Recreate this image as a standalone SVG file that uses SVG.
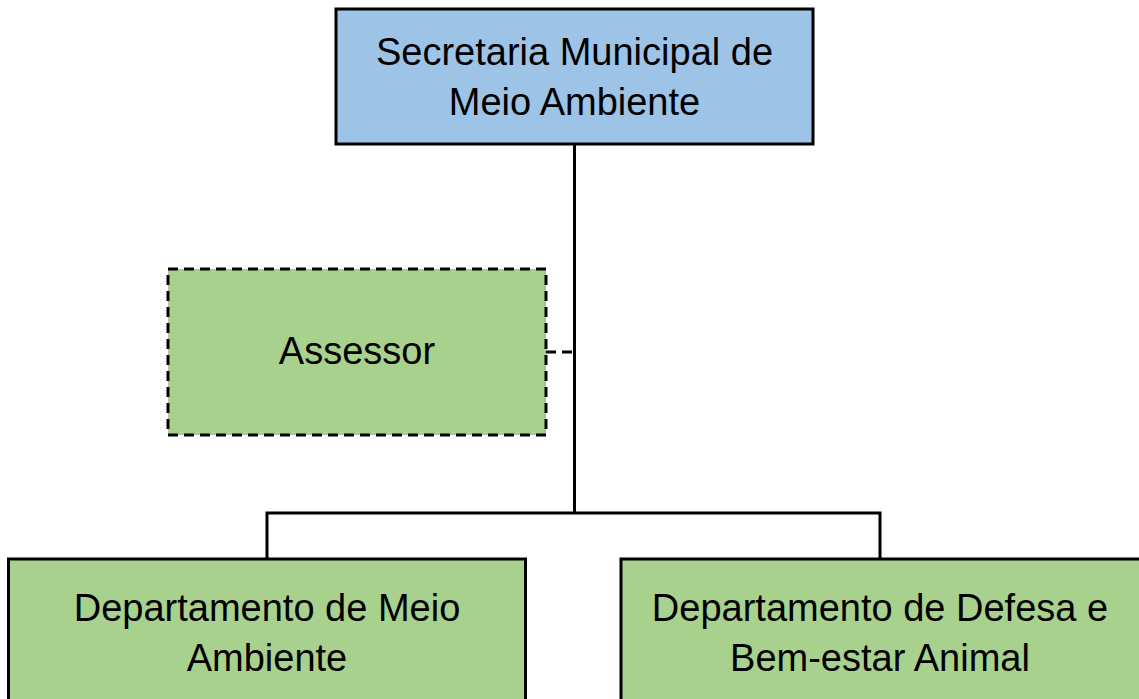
<svg xmlns="http://www.w3.org/2000/svg" width="1139" height="699" viewBox="0 0 1139 699">
<style>
.box{stroke:#000;stroke-width:3}
.blue{fill:#9DC3E6}
.green{fill:#A9D18E}
.dash{stroke-dasharray:10 6}
.lbl{font-family:"Liberation Sans","Open Sans",sans-serif;font-size:38px;fill:#000;text-anchor:middle}
.ln{stroke:#000;stroke-width:3;fill:none}
</style>
<rect width="1139" height="699" fill="#fff"/>
<g id="connectors">
<line class="ln" x1="574.5" y1="144" x2="574.5" y2="513"/>
<polyline class="ln" points="267,559 267,513 880,513 880,559"/>
<line class="ln dash" x1="546" y1="352" x2="574.5" y2="352"/>
</g>
<g id="secretaria">
<rect class="box blue" x="336" y="9" width="477" height="135"/>
<text class="lbl" x="574.5" y="65">Secretaria Municipal de</text>
<text class="lbl" x="574.5" y="115">Meio Ambiente</text>
</g>
<g id="assessor">
<rect class="box green dash" x="168" y="269" width="378" height="166"/>
<text class="lbl" x="357" y="364">Assessor</text>
</g>
<g id="dep-meio-ambiente">
<rect class="box green" x="8.5" y="559" width="517" height="145"/>
<text class="lbl" x="267" y="621">Departamento de Meio</text>
<text class="lbl" x="267" y="671">Ambiente</text>
</g>
<g id="dep-defesa-animal">
<rect class="box green" x="621" y="559" width="525" height="145"/>
<text class="lbl" x="880" y="621">Departamento de Defesa e</text>
<text class="lbl" x="880" y="671">Bem-estar Animal</text>
</g>
</svg>
